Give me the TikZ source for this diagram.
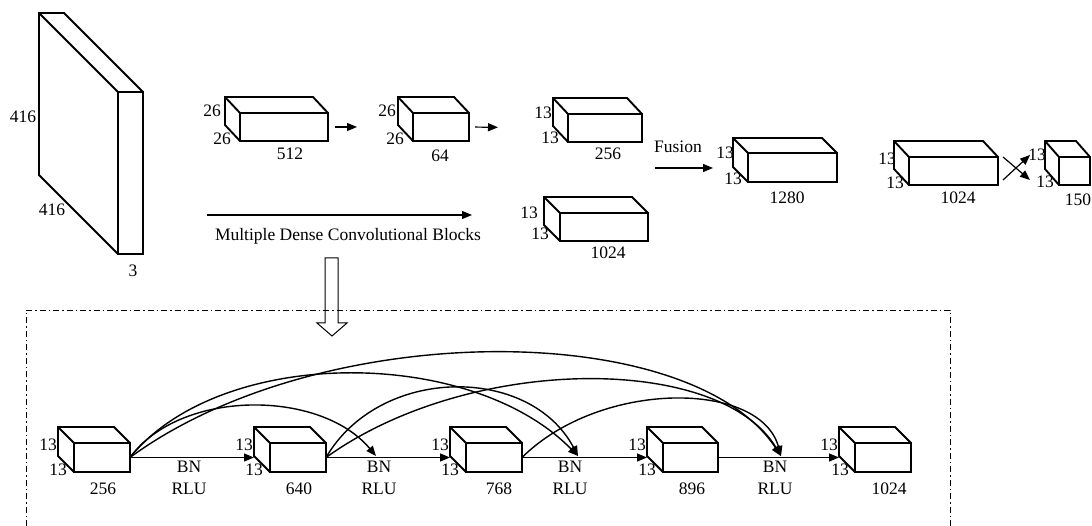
\documentclass[tikz,border=0pt]{standalone}
\usepackage{fontspec}
\setmainfont{Liberation Serif}
\usetikzlibrary{arrows.meta}
\tikzset{
  face/.style={draw, line width=1.9pt, rectangle, inner sep=0pt, outer sep=0pt},
  edge/.style={line width=1.9pt, line join=miter},
  arr/.style={line width=1.2pt, -{Triangle[length=10pt,width=8pt]}},
  arcc/.style={line width=1.4pt, -{Triangle[length=10pt,width=8pt]}},
  lbl/.style={inner sep=0pt, font=\fontsize{17.5}{22}\selectfont, align=center},
  dashbox/.style={line width=0.8pt, dash pattern=on 6pt off 3pt on 1.5pt off 3pt},
  hollow/.style={line width=1pt, line join=miter},
}
\newcommand\mycube[7]{%
  \node[face, minimum width=#4pt, minimum height=#5pt] (#1) at ({#2+#4/2},{#3+#5/2}) {};
  \draw[edge] (#1.south west) -- ++(#6,#7) -- ++(0,-#5) -- ++(#4,0) -- (#1.north east)
     (#1.north west) -- ++(#6,#7);
  \coordinate (#1-in) at ([xshift=#6pt]#1.west);
}
\begin{document}
\begin{tikzpicture}[x=1pt,y=-1pt]
\useasboundingbox (0,0) rectangle (1092,526);

% input slab
\mycube{slab}{118}{92}{25}{162}{-79}{-79}
\node[lbl] (s1) at (23,117) {416};
\node[lbl] (s2) at (52,210) {416};
\node[lbl] (s3) at (133,271) {3};

% top row
\mycube{t1}{240}{113}{88}{28}{-15}{-16}
\node[lbl] (t1a) at (212,111) {26};
\node[lbl] (t1b) at (222,139) {26};
\node[lbl] (t1c) at (290,154) {512};

\mycube{t2}{413}{113}{56}{28}{-15}{-16}
\node[lbl] (t2a) at (387,111) {26};
\node[lbl] (t2b) at (395,139) {26};
\node[lbl] (t2c) at (440,156) {64};

\mycube{t3}{568}{114}{74}{28}{-15}{-16}
\node[lbl] (t3a) at (543,113) {13};
\node[lbl] (t3b) at (550,138) {13};
\node[lbl] (t3c) at (608,154) {256};

\mycube{t4}{560}{213}{88}{28}{-16}{-16}
\node[lbl] (t4a) at (529,213) {13};
\node[lbl] (t4b) at (540,234) {13};
\node[lbl] (t4c) at (608,253) {1024};

\mycube{t5}{748}{153}{89}{29}{-15}{-15}
\node[lbl] (t5a) at (725,153) {13};
\node[lbl] (t5b) at (733,179) {13};
\node[lbl] (t5c) at (787,198) {1280};

\mycube{t6}{909}{157}{89}{28}{-15}{-16}
\node[lbl] (t6a) at (887,159) {13};
\node[lbl] (t6b) at (895,183) {13};
\node[lbl] (t6c) at (958,198) {1024};

\mycube{t7}{1059}{157}{31}{28}{-14}{-16}
\node[lbl] (t7a) at (1037,155) {13};
\node[lbl] (t7b) at (1045,182) {13};
\node[lbl] (t7c) at (1078,200) {150};

\draw[arr, shorten <=7pt, shorten >=41pt] (t1.east) -- (t2-in);
\draw[arr, shorten <=6pt, shorten >=55pt] (t2.east) -- (t3-in);

\coordinate (mdA) at (207,215);
\coordinate (mdB) at (472,215);
\draw[arr] (mdA) -- (mdB);
\node[lbl] (mdl) at (348,236) {Multiple Dense Convolutional Blocks};

\coordinate (fuA) at (655,168);
\coordinate (fuB) at (713,168);
\draw[arr] (fuA) -- (fuB);
\node[lbl] (ful) at (678,147) {Fusion};

\coordinate (xA) at (1003,157);
\coordinate (xB) at (1030,180);
\coordinate (xC) at (1003,180);
\coordinate (xD) at (1030,155);
\draw[arr] (xA) -- (xB);
\draw[arr] (xC) -- (xD);

% hollow arrow
\draw[hollow] (325,258) -- (325,323) -- (317,323) -- (332,336) -- (347,323) -- (338,323) -- (338,258) -- cycle;

% dash-dot frame
\draw[dashbox] (26,526) -- (26,310) -- (950,310) -- (950,526);

% bottom row
\mycube{b1}{74}{443}{56}{29}{-16}{-16}
\mycube{b2}{270}{443}{56}{29}{-16}{-16}
\mycube{b3}{466}{443}{56}{29}{-16}{-16}
\mycube{b4}{663}{443}{55}{29}{-16}{-16}
\mycube{b5}{855}{443}{56}{29}{-16}{-16}

\node[lbl] (b1a) at (48,445) {13};  \node[lbl] (b1b) at (58,470) {13};
\node[lbl] (b2a) at (244,445) {13}; \node[lbl] (b2b) at (254,470) {13};
\node[lbl] (b3a) at (440,445) {13}; \node[lbl] (b3b) at (450,470) {13};
\node[lbl] (b4a) at (637,445) {13}; \node[lbl] (b4b) at (647,470) {13};
\node[lbl] (b5a) at (829,445) {13}; \node[lbl] (b5b) at (840,470) {13};

\node[lbl] (b1c) at (103,489) {256};
\node[lbl] (b2c) at (299,489) {640};
\node[lbl] (b3c) at (499,489) {768};
\node[lbl] (b4c) at (692,489) {896};
\node[lbl] (b5c) at (889,489) {1024};

\node[lbl] (r1) at (189,478) {BN\\RLU};
\node[lbl] (r2) at (379,478) {BN\\RLU};
\node[lbl] (r3) at (570,478) {BN\\RLU};
\node[lbl] (r4) at (775,478) {BN\\RLU};

\draw[arr] (b1.east) -- (b2-in);
\draw[arr] (b2.east) -- (b3-in);
\draw[arr] (b3.east) -- (b4-in);
\draw[arr] (b4.east) -- (b5-in);

\coordinate (bn2) at (376,456);
\coordinate (bn3) at (578,456);
\coordinate (bn4) at (781,456);

\draw[arcc] (b1.east) .. controls (180,389) and (320,389) .. (bn2);
\draw[arcc] (b1.east) .. controls (220,346) and (470,346) .. (bn3);
\draw[arcc] (b1.east) .. controls (320,318) and (690,318) .. (bn4);
\draw[arcc] (b2.east) .. controls (380,365) and (530,365) .. (bn3);
\draw[arcc] (b2.east) .. controls (470,354) and (720,354) .. (bn4);
\draw[arcc] (b3.east) .. controls (600,380) and (760,380) .. (bn4);
\end{tikzpicture}
\end{document}
